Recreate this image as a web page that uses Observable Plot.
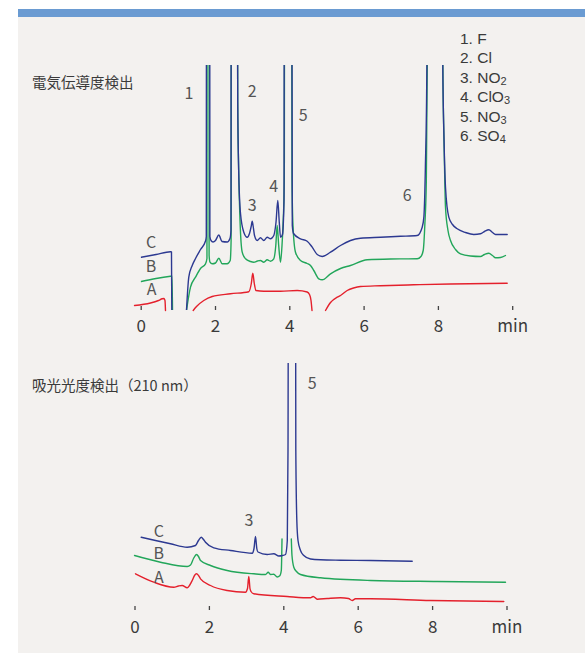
<!DOCTYPE html>
<html><head><meta charset="utf-8">
<script src="https://cdn.jsdelivr.net/npm/d3@7"></script>
<script src="https://cdn.jsdelivr.net/npm/@observablehq/plot@0.6"></script>
<style>
html,body{margin:0;padding:0;background:#fff;}
body{width:585px;height:653px;overflow:hidden;position:relative;font-family:"Noto Sans CJK JP","Noto Sans",sans-serif;color:#333;}
#panel{position:absolute;left:18px;top:9px;width:567px;height:644px;background:#f3f1ef;border-top:8px solid #6a9bd2;box-sizing:border-box;}
.chart{position:absolute;left:0;}
.title{position:absolute;left:32px;font-size:14.5px;line-height:16px;color:#3a3a3a;white-space:nowrap;}
#legend{position:absolute;left:460px;top:29px;font-size:15.5px;line-height:19.4px;color:#3a3a3a;font-family:"Liberation Sans","DejaVu Sans",sans-serif;}
#legend div{height:19.4px;}
#legend sub{font-size:11px;vertical-align:-2px;line-height:0;}
</style></head>
<body>
<div id="panel"></div>
<div class="title" style="top:74px">電気伝導度検出</div>
<div class="title" style="top:377px">吸光光度検出（210 nm）</div>
<div id="legend"></div>
<div id="chartTop" class="chart" style="top:0px"></div>
<div id="chartBottom" class="chart" style="top:340px"></div>
<script>
// time ticks (min)
const tickValues = [0, 2, 4, 6, 8, 10];
const tickLabels = ["0", "2", "4", "6", "8", "min"];

// legend
const legendNames = ["1. F", "2. Cl", "3. NO", "4. ClO", "5. NO", "6. SO"];
const legendSubs = ["", "", "2", "3", "3", "4"];

// conductivity detection: [time (min), signal]
const topC = [
[0,49.3],[0.40,52],[0.79,54.7],[0.815,54.5],[0.824,-4],[1.0,null],
[1.219,-4],[1.281,29.3],[1.373,41],[1.462,48],[1.597,57],[1.731,65.5],[1.752,70],[1.803,3000],[1.849,70],[1.879,66],[1.933,64.5],[2.0,66],[2.089,71.5],[2.175,65],[2.315,64.5],[2.39,68],[2.417,76],[2.425,600],[2.573,600],[2.598,206],[2.624,136],[2.673,93],[2.762,74.3],[2.853,69.3],[2.915,73],[2.96,80],[2.988,85.3],[3.015,80],[3.05,71],[3.122,66],[3.211,68.7],[3.30,66],[3.392,69.3],[3.48,67.7],[3.569,71],[3.628,84],[3.677,106],[3.717,84],[3.75,69.3],[3.803,72],[3.844,106],[3.857,600],[4.046,600],[4.067,81],[4.10,73],[4.288,67.7],[4.468,65.3],[4.603,59.3],[4.738,52],[4.872,50],[5.096,54.3],[5.365,61],[5.634,66],[5.903,68.3],[6.441,69.3],[6.98,70.2],[7.429,71],[7.564,79.3],[7.61,90],[7.65,140],[7.69,241],[7.71,600],[8.10,600],[8.118,241],[8.15,170],[8.191,119.3],[8.28,89.3],[8.38,82],[8.506,77.7],[8.73,74],[8.953,72],[9.133,72.7],[9.241,75],[9.357,76.7],[9.456,74],[9.537,72],[9.852,72]
];
const topB = [
[0,25],[0.40,28],[0.789,30.3],[0.83,30.5],[0.843,-4],[1.0,null],
[1.219,-4],[1.327,19.3],[1.462,29.3],[1.597,38],[1.731,42.7],[1.77,48],[1.803,3000],[1.828,51],[1.852,44.3],[1.911,42.7],[2.0,43.5],[2.089,48.3],[2.18,42.7],[2.315,42.7],[2.396,46],[2.42,66],[2.428,600],[2.573,600],[2.598,206],[2.624,136],[2.66,86],[2.719,54.3],[2.808,47.7],[2.942,45],[3.031,44.3],[3.13,45.5],[3.211,46],[3.30,44.3],[3.392,46.7],[3.48,45.3],[3.569,47.7],[3.623,61],[3.661,81],[3.701,61],[3.75,44.3],[3.79,61],[3.817,81],[3.852,126],[3.865,600],[4.04,600],[4.059,126],[4.086,81],[4.153,54.3],[4.288,46],[4.468,43],[4.557,41],[4.646,36],[4.781,27.7],[4.872,26.7],[5.096,32.7],[5.365,38],[5.634,41],[6.083,46.7],[6.71,47.5],[7.429,47.7],[7.53,50],[7.591,56],[7.634,81],[7.675,126],[7.70,241],[7.715,600],[8.10,600],[8.12,241],[8.16,150],[8.191,99.3],[8.258,76],[8.326,66],[8.46,57],[8.595,52.7],[8.864,50.5],[9.133,50],[9.241,52],[9.357,53.3],[9.456,51],[9.537,48.7],[9.672,49],[9.806,51]
];
const topA = [
[-0.18,1],[0.25,3.5],[0.465,6],[0.565,7.7],[0.614,8],[0.64,6],[0.654,-4],[1.0,null],
[1.40,-4],[1.489,0],[1.685,6],[1.911,10],[2.404,12.7],[2.896,14.8],[2.964,23],[3.004,33.3],[3.044,23],[3.09,16],[3.30,15.3],[3.75,15.3],[4.199,16],[4.468,14.5],[4.53,12],[4.571,6],[4.598,-4],[4.8,null],
[4.961,-4],[5.096,4],[5.276,9.3],[5.365,11],[5.545,16],[5.715,18.5],[5.903,20],[6.441,20.8],[7.33,21.7],[8.326,22.5],[9.852,23.3]
];
const topLabelText = ["1", "2", "3", "4", "5", "6", "C", "B", "A"];
const topLabelT = [1.287, 2.988, 2.988, 3.569, 4.361, 7.16, 0.264, 0.264, 0.277];
const topLabelV = [213, 214.5, 101, 120, 191, 111, 64, 40, 17];

// absorbance detection (210 nm): [time (min), signal]
const botC = [
[0.167,69.3],[0.551,66],[0.954,62.7],[1.403,59.3],[1.626,61],[1.707,66],[1.78,69.3],[1.841,67],[1.895,64.3],[2.118,58.7],[2.567,56],[3.151,53.3],[3.199,58],[3.239,70],[3.274,58],[3.306,54.5],[3.554,52],[3.731,52.7],[3.866,50.5],[3.965,51],[4.046,52],[4.094,66],[4.113,156],[4.134,600],[4.306,600],[4.323,156],[4.35,86],[4.382,66],[4.449,56],[4.538,51],[4.718,47.5],[4.987,46.7],[5.524,46.3],[6.331,46],[7.452,45.3]
];
const botB = [
[-0.013,51],[0.685,44.3],[1.403,40],[1.492,41.5],[1.573,48],[1.653,52],[1.707,50],[1.761,46],[2.03,41],[2.478,36],[3.194,32.7],[3.508,32],[3.581,34.3],[3.642,32],[3.731,32.3],[3.823,29.5],[3.892,30.7],[3.933,36],[3.952,67.5],[4.1,null],
[4.202,67.5],[4.22,51],[4.269,39.3],[4.341,35],[4.449,32],[4.987,28.7],[6.331,26],[8.124,25],[9.96,24.3]
];
const botA = [
[0.013,32.7],[0.505,24.3],[1.043,19.3],[1.169,20.5],[1.269,21],[1.403,18.7],[1.465,21],[1.538,26],[1.60,31],[1.653,32.7],[1.707,31],[1.761,27.7],[2.03,21],[2.478,16],[2.97,14.3],[3.024,18],[3.059,30],[3.091,18],[3.118,15],[3.194,12.7],[4.091,10],[4.718,8.7],[4.79,10],[4.898,7.3],[5.167,8],[5.524,8.7],[5.739,8],[5.839,6],[5.927,7.7],[6.331,7.7],[7.944,6],[9.914,5]
];
const botLabelText = ["C", "B", "A", "3", "5"];
const botLabelT = [0.64, 0.64, 0.64, 3.06, 4.763];
const botLabelV = [74.3, 52.7, 28.7, 86, 222.7];

const colorC = "#2c3991", colorB = "#22a65a", colorA = "#e4202c";
const font = '"Noto Sans CJK JP","Noto Sans",sans-serif';

document.getElementById("legend").innerHTML = legendNames
  .map((n, i) => `<div>${n}${legendSubs[i] ? `<sub>${legendSubs[i]}</sub>` : ""}</div>`).join("");

function trace(data, stroke, clip) {
  return Plot.line(data, {x: d => d[0], y: d => d[1], stroke, strokeWidth: 1.4, curve: "monotone-x", clip});
}
function labels(text, t, v) {
  return Plot.text(text, {x: (d, i) => t[i], y: (d, i) => v[i], text: d => d, fontSize: 16, fill: "#555", fontFamily: font});
}
function axisMarks(labelDy) {
  return [
    Plot.ruleX(tickValues, {x: d => d, y1: -4, y2: 0, stroke: "#444", strokeWidth: 1.3}),
    Plot.text(tickValues, {x: d => d, y: -4, dy: labelDy, text: (d, i) => tickLabels[i], fontSize: 17, fill: "#3a3a3a", fontFamily: font})
  ];
}

const chartTop = Plot.plot({
  width: 585, height: 340,
  marginLeft: 140.7, marginRight: 72.8, marginTop: 65, marginBottom: 30,
  x: {domain: [0, 10], axis: null},
  y: {domain: [-4, 241], axis: null},
  style: {background: "transparent", overflow: "visible", fontFamily: font},
  marks: [
    trace(topA, colorA, false),
    trace(topB, colorB, true),
    trace(topC, colorC, true),
    ...axisMarks(16.5),
    labels(topLabelText, topLabelT, topLabelV)
  ]
});
document.getElementById("chartTop").appendChild(chartTop);

const chartBottom = Plot.plot({
  width: 585, height: 313,
  marginLeft: 134.5, marginRight: 78.5, marginTop: 23, marginBottom: 43,
  x: {domain: [0, 10], axis: null},
  y: {domain: [-4, 243], axis: null},
  style: {background: "transparent", overflow: "visible", fontFamily: font},
  marks: [
    trace(botA, colorA, false),
    trace(botB, colorB, false),
    trace(botC, colorC, true),
    ...axisMarks(17),
    labels(botLabelText, botLabelT, botLabelV)
  ]
});
document.getElementById("chartBottom").appendChild(chartBottom);
</script>
</body></html>
